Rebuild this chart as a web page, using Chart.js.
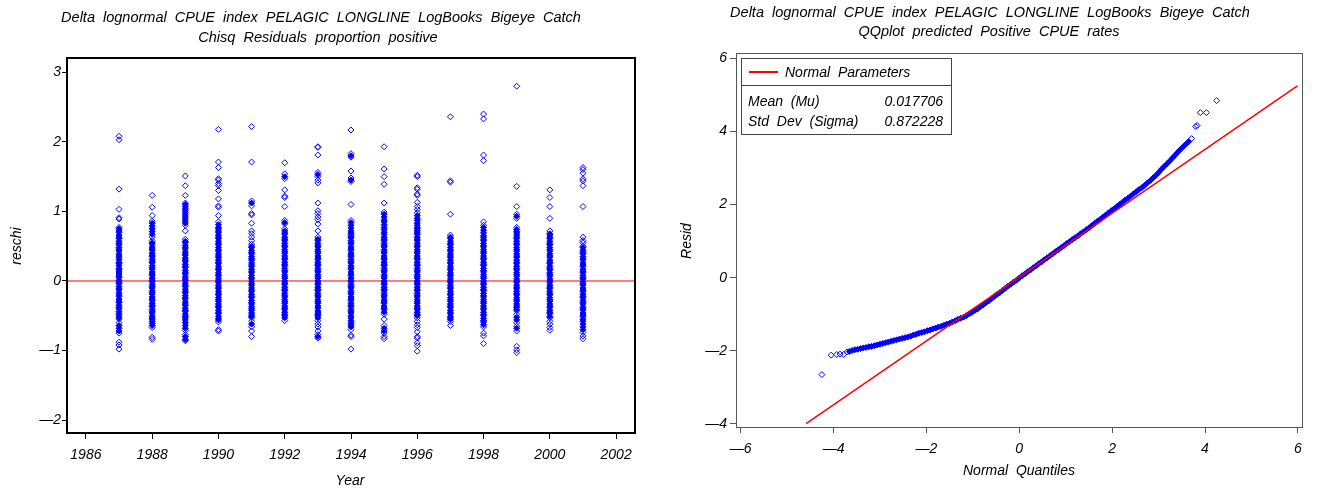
<!DOCTYPE html>
<html>
<head>
<meta charset="utf-8">
<script src="https://cdn.jsdelivr.net/npm/chart.js@4.4.1/dist/chart.umd.min.js"></script>
<style>
  html, body { margin: 0; padding: 0; background: #fff; }
  #wrap { position: relative; width: 1317px; height: 491px; }
  canvas { position: absolute; top: 0; }
</style>
</head>
<body>
<div id="wrap">
  <canvas id="chartResid" width="660" height="491" style="left:0"></canvas>
  <canvas id="chartQQ" width="657" height="491" style="left:660px"></canvas>
</div>
<script>
// ---------------------------------------------
// data: chi-square residuals by year (left)
// ---------------------------------------------
const years = [1987, 1988, 1989, 1990, 1991, 1992, 1993, 1994, 1995, 1996, 1997, 1998, 1999, 2000, 2001]

const r1987 = [2.08,2.03,1.32,1.03,0.91,0.89,0.77,0.75,0.72,0.70,0.66,0.63,0.61,0.57,0.54,0.52,0.48,0.45,0.43,0.39,0.36,0.34,0.31,0.27,0.25,0.22,0.18,0.16,0.13,0.10,0.07,0.05,0.01,-0.02,-0.04,-0.08,-0.11,-0.13,-0.17,-0.20,-0.22,-0.26,-0.29,-0.31,-0.35,-0.38,-0.40,-0.44,-0.47,-0.50,-0.53,-0.55,-0.60,-0.64,-0.68,-0.72,-0.75,-0.88,-0.92,-0.98]
const r1988 = [1.23,1.06,0.94,0.86,0.83,0.79,0.75,0.71,0.67,0.63,0.58,0.55,0.53,0.49,0.46,0.44,0.40,0.37,0.35,0.31,0.28,0.26,0.22,0.19,0.17,0.13,0.10,0.08,0.04,0.01,-0.01,-0.05,-0.08,-0.10,-0.14,-0.17,-0.19,-0.23,-0.26,-0.28,-0.32,-0.35,-0.37,-0.41,-0.44,-0.46,-0.50,-0.53,-0.55,-0.58,-0.61,-0.64,-0.67,-0.81,-0.84]
const r1989 = [1.51,1.37,1.23,1.12,1.10,1.07,1.04,1.01,0.98,0.95,0.92,0.89,0.86,0.83,0.80,0.72,0.60,0.57,0.55,0.51,0.48,0.46,0.42,0.39,0.37,0.33,0.30,0.28,0.24,0.21,0.19,0.15,0.12,0.10,0.06,0.03,0.01,-0.03,-0.06,-0.08,-0.12,-0.15,-0.17,-0.21,-0.24,-0.26,-0.30,-0.33,-0.35,-0.39,-0.42,-0.44,-0.48,-0.51,-0.53,-0.56,-0.60,-0.64,-0.68,-0.71,-0.77,-0.80,-0.84,-0.86]
const r1990 = [2.18,1.71,1.63,1.47,1.45,1.40,1.37,1.30,1.18,1.08,1.06,0.94,0.85,0.81,0.77,0.75,0.72,0.70,0.66,0.63,0.61,0.57,0.54,0.52,0.48,0.45,0.43,0.39,0.36,0.34,0.30,0.27,0.25,0.21,0.18,0.16,0.12,0.09,0.07,0.03,0.00,-0.02,-0.06,-0.09,-0.11,-0.15,-0.18,-0.20,-0.24,-0.27,-0.29,-0.33,-0.36,-0.38,-0.42,-0.45,-0.47,-0.51,-0.54,-0.56,-0.59,-0.70,-0.72]
const r1991 = [2.22,1.71,1.15,1.12,1.08,0.97,0.95,0.83,0.72,0.68,0.63,0.58,0.53,0.50,0.48,0.44,0.41,0.39,0.35,0.32,0.30,0.26,0.23,0.21,0.17,0.14,0.12,0.08,0.05,0.03,-0.01,-0.04,-0.06,-0.10,-0.13,-0.15,-0.19,-0.22,-0.24,-0.28,-0.31,-0.33,-0.37,-0.40,-0.42,-0.46,-0.49,-0.51,-0.53,-0.58,-0.62,-0.66,-0.72,-0.80]
const r1992 = [1.70,1.54,1.50,1.47,1.31,1.22,1.20,1.07,0.87,0.84,0.82,0.75,0.72,0.69,0.67,0.63,0.60,0.58,0.54,0.51,0.49,0.45,0.42,0.40,0.36,0.33,0.31,0.27,0.24,0.22,0.18,0.15,0.13,0.09,0.06,0.04,0.00,-0.03,-0.05,-0.09,-0.12,-0.14,-0.18,-0.21,-0.23,-0.27,-0.30,-0.32,-0.36,-0.39,-0.41,-0.45,-0.48,-0.50,-0.53,-0.57]
const r1993 = [1.93,1.92,1.81,1.56,1.53,1.50,1.45,1.41,1.12,1.01,0.97,0.92,0.88,0.82,0.72,0.63,0.60,0.58,0.54,0.51,0.49,0.45,0.42,0.40,0.36,0.33,0.31,0.27,0.24,0.22,0.18,0.15,0.13,0.09,0.06,0.04,0.00,-0.03,-0.05,-0.09,-0.12,-0.14,-0.18,-0.21,-0.23,-0.27,-0.30,-0.32,-0.36,-0.39,-0.43,-0.46,-0.48,-0.50,-0.53,-0.57,-0.62,-0.66,-0.72,-0.77,-0.80,-0.82]
const r1994 = [2.17,1.83,1.80,1.78,1.58,1.48,1.45,1.43,1.10,0.87,0.84,0.80,0.76,0.72,0.69,0.67,0.64,0.62,0.58,0.55,0.53,0.49,0.46,0.44,0.40,0.37,0.35,0.31,0.28,0.26,0.22,0.19,0.17,0.13,0.10,0.08,0.04,0.01,-0.01,-0.05,-0.08,-0.10,-0.14,-0.17,-0.19,-0.23,-0.26,-0.28,-0.32,-0.35,-0.37,-0.41,-0.44,-0.46,-0.50,-0.53,-0.57,-0.60,-0.63,-0.66,-0.70,-0.78,-0.80,-0.98]
const r1995 = [1.93,1.61,1.50,1.39,1.12,0.99,0.96,0.92,0.88,0.85,0.81,0.77,0.74,0.70,0.67,0.63,0.60,0.58,0.54,0.51,0.49,0.45,0.42,0.40,0.36,0.33,0.31,0.27,0.24,0.22,0.18,0.15,0.13,0.09,0.06,0.04,0.00,-0.03,-0.05,-0.09,-0.12,-0.14,-0.18,-0.21,-0.23,-0.27,-0.30,-0.32,-0.36,-0.39,-0.41,-0.45,-0.48,-0.55,-0.64,-0.68,-0.72,-0.75,-0.80,-0.83]
const r1996 = [1.52,1.50,1.34,1.32,1.25,1.23,1.13,1.07,1.03,0.98,0.94,0.90,0.87,0.83,0.80,0.77,0.75,0.72,0.69,0.67,0.63,0.60,0.58,0.54,0.51,0.49,0.45,0.42,0.40,0.36,0.33,0.31,0.27,0.24,0.22,0.18,0.15,0.13,0.09,0.06,0.04,0.00,-0.03,-0.05,-0.09,-0.12,-0.14,-0.18,-0.21,-0.23,-0.27,-0.30,-0.32,-0.36,-0.39,-0.41,-0.45,-0.48,-0.50,-0.53,-0.58,-0.63,-0.67,-0.73,-0.80,-0.82,-0.89,-0.93,-1.01]
const r1997 = [2.36,1.44,1.42,0.96,0.66,0.63,0.61,0.57,0.54,0.52,0.48,0.45,0.43,0.39,0.36,0.34,0.30,0.27,0.25,0.21,0.18,0.16,0.12,0.09,0.07,0.03,0.00,-0.02,-0.06,-0.09,-0.11,-0.15,-0.18,-0.20,-0.24,-0.27,-0.29,-0.33,-0.36,-0.38,-0.42,-0.45,-0.47,-0.51,-0.53,-0.55,-0.58,-0.64]
const r1998 = [2.40,2.33,1.81,1.73,0.85,0.80,0.77,0.73,0.69,0.65,0.63,0.60,0.58,0.54,0.51,0.49,0.45,0.42,0.40,0.36,0.33,0.31,0.27,0.24,0.22,0.18,0.15,0.13,0.09,0.06,0.04,0.00,-0.03,-0.05,-0.09,-0.12,-0.14,-0.18,-0.21,-0.23,-0.27,-0.30,-0.32,-0.36,-0.39,-0.41,-0.45,-0.48,-0.50,-0.54,-0.57,-0.59,-0.63,-0.66,-0.75,-0.79,-0.90]
const r1999 = [2.80,1.36,1.07,0.96,0.93,0.90,0.77,0.74,0.71,0.69,0.66,0.63,0.61,0.57,0.54,0.52,0.48,0.45,0.43,0.39,0.36,0.34,0.30,0.27,0.25,0.21,0.18,0.16,0.12,0.09,0.07,0.03,0.00,-0.02,-0.06,-0.09,-0.11,-0.15,-0.18,-0.20,-0.24,-0.27,-0.29,-0.33,-0.36,-0.38,-0.41,-0.43,-0.48,-0.52,-0.56,-0.60,-0.65,-0.68,-0.72,-0.94,-0.99,-1.03]
const r2000 = [1.31,1.20,1.07,0.90,0.72,0.68,0.66,0.63,0.61,0.57,0.54,0.52,0.48,0.45,0.43,0.39,0.36,0.34,0.30,0.27,0.25,0.21,0.18,0.16,0.12,0.09,0.07,0.03,0.00,-0.02,-0.06,-0.09,-0.11,-0.15,-0.18,-0.20,-0.24,-0.27,-0.29,-0.33,-0.36,-0.38,-0.42,-0.45,-0.47,-0.51,-0.53,-0.58,-0.62,-0.67,-0.71]
const r2001 = [1.63,1.60,1.55,1.47,1.44,1.37,1.07,0.63,0.58,0.55,0.50,0.48,0.44,0.41,0.39,0.35,0.32,0.30,0.26,0.23,0.21,0.17,0.14,0.12,0.08,0.05,0.03,-0.01,-0.04,-0.06,-0.10,-0.13,-0.15,-0.19,-0.22,-0.24,-0.28,-0.31,-0.33,-0.37,-0.40,-0.42,-0.46,-0.49,-0.51,-0.55,-0.58,-0.62,-0.66,-0.70,-0.74,-0.79,-0.83]

const reschiCols = [r1987, r1988, r1989, r1990, r1991, r1992, r1993, r1994, r1995, r1996, r1997, r1998, r1999, r2000, r2001]
const zeroLineX = [1985.4, 2002.6]
const zeroLineY = [0, 0]
const yearTicks = [1986, 1988, 1990, 1992, 1994, 1996, 1998, 2000, 2002]
const reschiTicks = [-2, -1, 0, 1, 2, 3]

// ---------------------------------------------
// data: QQ plot of positive CPUE residuals (right)
// ---------------------------------------------
const qqX = [-4.25,-4.05,-3.93,-3.86,-3.78,
  -3.71,-3.66,-3.60,-3.54,-3.48,-3.42,-3.36,-3.30,-3.24,-3.18,-3.12,-3.06,-3.00,-2.94,-2.88,-2.82,-2.76,-2.70,
  -2.64,-2.58,-2.52,-2.46,-2.40,-2.34,-2.28,-2.22,-2.16,-2.10,-2.04,-1.98,-1.92,-1.86,-1.80,-1.74,-1.68,-1.62,
  -1.56,-1.50,-1.44,-1.38,-1.32,-1.26,-1.20,-1.14,-1.08,-1.02,-0.96,-0.90,-0.84,-0.78,-0.72,-0.66,-0.60,-0.54,
  -0.48,-0.42,-0.36,-0.30,-0.24,-0.18,-0.12,-0.06,0.00,0.06,0.12,0.18,0.24,0.30,0.36,0.42,0.48,0.54,0.60,
  0.66,0.72,0.78,0.84,0.90,0.96,1.02,1.08,1.14,1.20,1.26,1.32,1.38,1.44,1.50,1.56,1.62,1.68,1.74,1.80,
  1.86,1.92,1.98,2.04,2.10,2.16,2.22,2.28,2.34,2.40,2.46,2.52,2.58,2.64,2.70,2.76,2.82,2.88,2.94,3.00,
  3.06,3.12,3.18,3.24,3.30,3.35,3.40,3.45,3.50,3.55,3.60,3.65,3.71,
  3.80,3.83,3.90,4.03,4.25]
const qqY = [-2.65,-2.12,-2.10,-2.09,-2.10,
  -2.03,-2.02,-1.99,-1.97,-1.96,-1.94,-1.92,-1.91,-1.89,-1.88,-1.86,-1.84,-1.82,-1.80,-1.78,-1.76,-1.74,-1.72,
  -1.70,-1.68,-1.66,-1.64,-1.62,-1.60,-1.57,-1.55,-1.52,-1.50,-1.48,-1.45,-1.43,-1.40,-1.38,-1.35,-1.33,-1.30,
  -1.27,-1.25,-1.21,-1.18,-1.14,-1.11,-1.08,-1.04,-0.99,-0.95,-0.90,-0.86,-0.80,-0.75,-0.69,-0.64,-0.58,-0.52,
  -0.46,-0.41,-0.35,-0.29,-0.23,-0.18,-0.12,-0.07,-0.01,0.05,0.10,0.16,0.21,0.27,0.32,0.38,0.43,0.49,0.54,
  0.60,0.65,0.71,0.76,0.82,0.87,0.93,0.98,1.04,1.09,1.14,1.20,1.25,1.31,1.36,1.42,1.48,1.54,1.59,1.65,
  1.71,1.77,1.83,1.88,1.94,2.00,2.06,2.12,2.17,2.23,2.29,2.35,2.41,2.46,2.52,2.59,2.65,2.72,2.79,2.87,
  2.96,3.04,3.11,3.19,3.27,3.34,3.41,3.48,3.54,3.60,3.66,3.72,3.80,
  4.13,4.16,4.51,4.51,4.84]
const normLineX = [-4.59, 5.99]
const normLineY = [-3.99, 5.24]
const quantTicks = [-6, -4, -2, 0, 2, 4, 6]
const residTicks = [-4, -2, 0, 2, 4, 6]
const normLabels = ['Mean  (Mu)', 'Std  Dev  (Sigma)']
const normValues = ['0.017706', '0.872228']

// ---------------------------------------------
// stile comune
// ---------------------------------------------
const FONT = '"Liberation Sans", Arial, sans-serif'
const BLUE = '#0000ff'
Chart.defaults.font.family = FONT
Chart.defaults.font.style = 'italic'
Chart.defaults.font.size = 14
Chart.defaults.color = '#000'

// il segno meno lungo come nel grafico SAS
const minus = v => String(v).replace('-', '\u2014')
const fixTicks = list => scale => { scale.ticks = list.map(v => ({ value: v })) }

// punti fitti (vicini sopra e sotto) -> rombo pieno, cosi la colonna appare compatta
const isCore = (arr, i, gap) =>
  i > 0 && i < arr.length - 1 && Math.abs(arr[i] - arr[i - 1]) <= gap && Math.abs(arr[i + 1] - arr[i]) <= gap

// testi, cornice e riquadro legenda disegnati a mano
const decor = {
  id: 'decor',
  afterDraw(chart, args, o) {
    const ctx = chart.ctx
    const a = chart.chartArea
    ctx.save()
    // cornice
    ctx.strokeStyle = o.frameColor
    ctx.lineWidth = o.frameWidth
    const h = o.frameWidth / 2
    ctx.strokeRect(a.left + h, a.top + h, a.right - a.left - o.frameWidth, a.bottom - a.top - o.frameWidth)
    // titoli
    ctx.fillStyle = '#000'
    ctx.textAlign = 'center'
    ctx.textBaseline = 'middle'
    ctx.font = 'italic 14.5px ' + FONT
    o.titles.forEach(t => ctx.fillText(t.text, t.x, t.y))
    ctx.font = 'italic 14px ' + FONT
    ctx.fillText(o.xTitle.text, o.xTitle.x, o.xTitle.y)
    ctx.translate(o.yTitle.x, o.yTitle.y)
    ctx.rotate(-Math.PI / 2)
    ctx.fillText(o.yTitle.text, 0, 0)
    ctx.restore()
    if (o.legendBox) drawLegendBox(ctx, o.legendBox)
  }
}

function drawLegendBox(ctx, b) {
  ctx.save()
  ctx.strokeStyle = '#444'
  ctx.lineWidth = 1
  ctx.strokeRect(b.x + 0.5, b.y + 0.5, b.w, b.h)
  ctx.beginPath()
  ctx.moveTo(b.x, b.sep + 0.5)
  ctx.lineTo(b.x + b.w, b.sep + 0.5)
  ctx.stroke()
  ctx.strokeStyle = '#ff0000'
  ctx.lineWidth = 2
  ctx.beginPath()
  ctx.moveTo(b.x + 8, b.y + 14)
  ctx.lineTo(b.x + 37, b.y + 14)
  ctx.stroke()
  ctx.fillStyle = '#000'
  ctx.font = 'italic 14px ' + FONT
  ctx.textBaseline = 'middle'
  ctx.textAlign = 'left'
  ctx.fillText('Normal  Parameters', b.x + 44, b.y + 15)
  normLabels.forEach((t, i) => ctx.fillText(t, b.x + 7, b.y + 44 + i * 20))
  ctx.textAlign = 'right'
  normValues.forEach((t, i) => ctx.fillText(t, b.x + b.w - 8, b.y + 44 + i * 20))
  ctx.restore()
}

function axis(min, max, ticks, gridColor, tickLen, pad, extra) {
  return Object.assign({
    type: 'linear', min, max,
    afterBuildTicks: fixTicks(ticks),
    border: { display: false },
    grid: { drawOnChartArea: false, drawTicks: true, tickLength: tickLen, color: gridColor, tickColor: gridColor },
    ticks: { autoSkip: false, maxRotation: 0, padding: pad, callback: minus, color: '#000' }
  }, extra)
}

// ---------------------------------------------
// grafico sinistro: reschi per anno
// ---------------------------------------------
const residPts = []
years.forEach((yr, i) => {
  const col = reschiCols[i]
  col.forEach((v, j) => residPts.push({ x: yr, y: v, core: isCore(col, j, 0.045) }))
})

new Chart(document.getElementById('chartResid'), {
  type: 'scatter',
  data: {
    datasets: [
      {
        data: residPts, order: 0,
        pointStyle: 'rectRot', pointRadius: 3, pointBorderWidth: 1,
        pointBorderColor: BLUE,
        pointBackgroundColor: c => (c.raw && c.raw.core ? BLUE : 'rgba(0,0,0,0)')
      },
      {
        type: 'line', order: 1,
        data: zeroLineX.map((x, i) => ({ x, y: zeroLineY[i] })),
        borderColor: '#ff0000', borderWidth: 1, pointRadius: 0
      }
    ]
  },
  options: {
    responsive: false, animation: false, events: [],
    layout: { padding: { top: 57, right: 24, bottom: 0, left: 0 } },
    plugins: {
      legend: { display: false }, tooltip: { enabled: false },
      decor: {
        frameColor: '#000', frameWidth: 2,
        titles: [
          { text: 'Delta  lognormal  CPUE  index  PELAGIC  LONGLINE  LogBooks  Bigeye  Catch', x: 321, y: 18 },
          { text: 'Chisq  Residuals  proportion  positive', x: 318, y: 38 }
        ],
        xTitle: { text: 'Year', x: 350, y: 481 },
        yTitle: { text: 'reschi', x: 17, y: 246 }
      }
    },
    scales: {
      x: axis(1985.4, 2002.6, yearTicks, '#000', 5, 8, { afterFit: s => { s.height = 57 } }),
      y: axis(-2.2, 3.22, reschiTicks, '#000', 4, 1, { afterFit: s => { s.width = 66 } })
    }
  },
  plugins: [decor]
})

// ---------------------------------------------
// grafico destro: QQ plot
// ---------------------------------------------
const qqPts = qqX.map((x, i) => ({ x, y: qqY[i], core: isCore(qqX, i, 0.065) }))

new Chart(document.getElementById('chartQQ'), {
  type: 'scatter',
  data: {
    datasets: [
      {
        type: 'line', order: 0,
        data: normLineX.map((x, i) => ({ x, y: normLineY[i] })),
        borderColor: '#ff0000', borderWidth: 1.5, pointRadius: 0
      },
      {
        data: qqPts, order: 1,
        pointStyle: 'rectRot', pointRadius: 3, pointBorderWidth: 1,
        pointBorderColor: BLUE,
        pointBackgroundColor: c => (c.raw && c.raw.core ? BLUE : 'rgba(0,0,0,0)')
      }
    ]
  },
  options: {
    responsive: false, animation: false, events: [],
    layout: { padding: { top: 53, right: 14, bottom: 0, left: 0 } },
    plugins: {
      legend: { display: false }, tooltip: { enabled: false },
      decor: {
        frameColor: '#555', frameWidth: 1,
        titles: [
          { text: 'Delta  lognormal  CPUE  index  PELAGIC  LONGLINE  LogBooks  Bigeye  Catch', x: 330, y: 13 },
          { text: 'QQplot  predicted  Positive  CPUE  rates', x: 329, y: 32 }
        ],
        xTitle: { text: 'Normal  Quantiles', x: 359, y: 471 },
        yTitle: { text: 'Resid', x: 27, y: 241 },
        legendBox: { x: 81, y: 58, w: 210, h: 76, sep: 85 }
      }
    },
    scales: {
      x: axis(-6.1, 6.11, quantTicks, '#555', 5, 8, { afterFit: s => { s.height = 63 } }),
      y: axis(-4.11, 6.14, residTicks, '#555', 6, 3, { afterFit: s => { s.width = 76 } })
    }
  },
  plugins: [decor]
})
</script>
</body>
</html>
